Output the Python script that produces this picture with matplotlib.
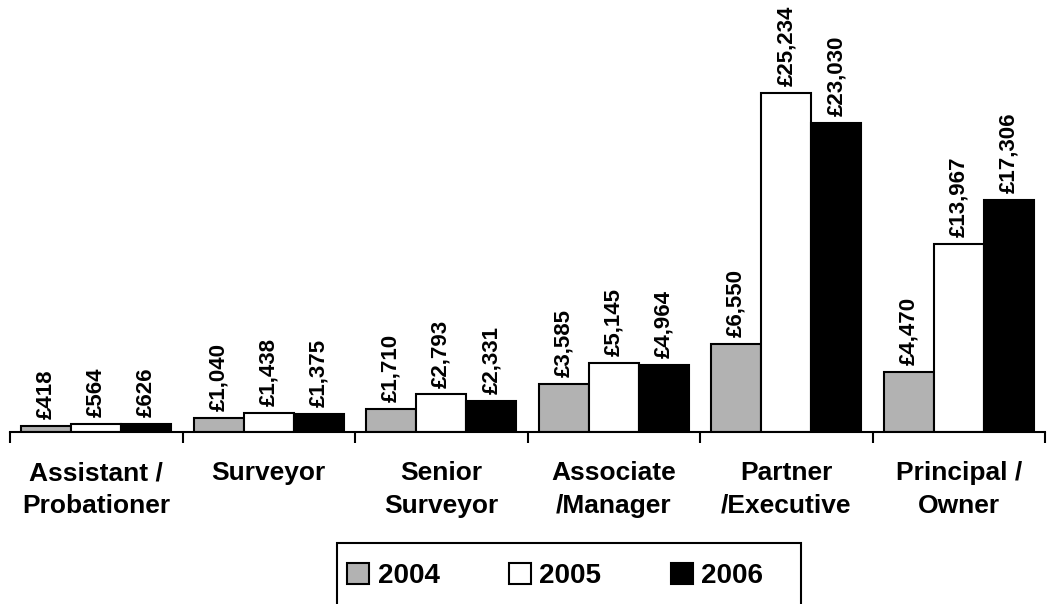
import matplotlib.pyplot as plt
from matplotlib.patches import Rectangle
import numpy as np

categories = ["Assistant /\nProbationer", "Surveyor", "Senior\nSurveyor",
              "Associate\n/Manager", "Partner\n/Executive", "Principal /\nOwner"]
years = ["2004", "2005", "2006"]
v2004 = [418, 1040, 1710, 3585, 6550, 4470]
v2005 = [564, 1438, 2793, 5145, 25234, 13967]
v2006 = [626, 1375, 2331, 4964, 23030, 17306]
colors = ["#b2b2b2", "#ffffff", "#000000"]

plt.rcParams['font.family'] = ['Liberation Sans', 'DejaVu Sans']

fig = plt.figure(figsize=(10.48, 6.04), dpi=100)
ax = fig.add_axes([10 / 1048, 172 / 604, 1035 / 1048, 432 / 604])

x = np.arange(len(categories))
width = 0.29
for i, (vals, c, yr) in enumerate(zip([v2004, v2005, v2006], colors, years)):
    pos = x + (i - 1) * width
    ax.bar(pos, vals, width, color=c, edgecolor="black", linewidth=1.5, label=yr, zorder=2)
    for px, v in zip(pos, vals):
        ax.annotate(f"£{v:,}", (px, v), xytext=(0, 5), textcoords="offset points",
                    rotation=90, ha="center", va="bottom", fontsize=16, fontweight="bold")

ax.set_xlim(-0.5, len(categories) - 0.5)
ax.set_ylim(0, 32160)
for s in ["left", "top", "right"]:
    ax.spines[s].set_visible(False)
ax.spines["bottom"].set_linewidth(1.5)
ax.set_yticks([])
ax.set_xticks(x)
ax.set_xticklabels(categories, fontsize=19, fontweight="bold", linespacing=1.45)
ax.tick_params(axis="x", which="major", length=0, pad=21)
ax.set_xticks(np.arange(-0.5, len(categories)), minor=True)
ax.tick_params(axis="x", which="minor", length=8, width=1.5, direction="out")

# legend box (bottom edge runs off the figure, as in the source)
fig.add_artist(Rectangle((337 / 1048, -0.02), 464 / 1048, (604 - 543) / 604 + 0.02,
                         transform=fig.transFigure, fill=False, edgecolor="black", lw=1.5))
fig.legend(loc="center left", bbox_to_anchor=(347 / 1048, 1 - 576 / 604), ncol=3,
           frameon=False, prop={"size": 20, "weight": "bold"},
           handlelength=0.8, handleheight=0.8, handletextpad=0.3,
           columnspacing=2.5, borderpad=0, borderaxespad=0)

fig.savefig("out.png", dpi=100)
